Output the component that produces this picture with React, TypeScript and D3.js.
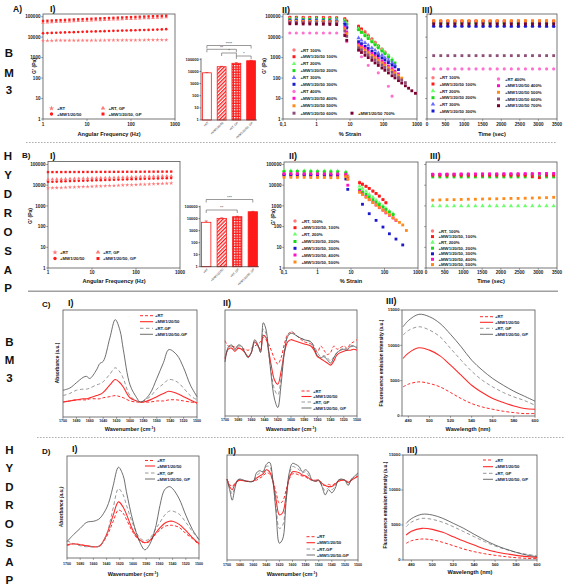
import React from "react";
import * as d3 from "d3";

const FF = "'Liberation Sans', Arial, Helvetica, sans-serif";
const N = null;

// ================= DATA =================
const LOG_TICKS = [1, 10, 100, 1000, 10000, 100000];
const FREQ_TICKS = [1, 10, 100, 1000];
const STRAIN_TICKS = [0.1, 1, 10, 100, 1000];
const STRAIN_TICK_LABELS = ["0,1", "1", "10", "100", "1000"];
const TIME_TICKS = [0, 500, 1000, 1500, 2000, 2500, 3000, 3500];
const WN_TICKS = [1700, 1680, 1660, 1640, 1620, 1600, 1580, 1560, 1540, 1520, 1500];
const WL_TICKS = [480, 500, 520, 540, 560, 580, 600];
const FL_TICKS = [0, 5000, 10000, 15000];

// A-I / B-I frequency sweeps
const FREQ = [1, 1.26, 1.58, 2, 2.51, 3.16, 3.98, 5.01, 6.31, 7.94, 10, 12.6, 15.8, 20, 25.1, 31.6, 39.8, 50.1, 63.1, 79.4, 100, 126, 158, 200, 251, 316, 398, 501, 631];
const A1_RT = [6800, 6800, 6800, 6850, 6850, 6850, 6900, 6900, 6900, 6950, 6950, 6950, 7000, 7000, 7000, 7050, 7050, 7100, 7100, 7100, 7150, 7150, 7200, 7200, 7250, 7250, 7300, 7300, 7350];
const A1_MW = [15500, 15800, 16100, 16400, 16700, 17000, 17300, 17600, 17900, 18200, 18500, 18800, 19100, 19400, 19700, 20000, 20300, 20600, 20900, 21200, 21500, 21800, 22100, 22400, 22700, 23100, 23500, 24000, 24500];
const A1_RTGP = [51000, 52300, 53600, 54900, 56200, 57500, 58800, 60100, 61400, 62700, 64000, 65300, 66600, 68000, 69500, 71000, 72500, 74000, 75500, 77000, 78500, 80000, 81800, 83600, 85400, 87200, 89000, 91000, 93000];
const A1_MWGP = [62000, 63600, 65200, 66800, 68400, 70000, 71600, 73200, 74800, 76400, 78000, 79600, 81200, 83000, 84800, 86600, 88400, 90200, 92000, 94000, 96000, 98000, 100000, 102000, 104000, 106000, 108000, 110000, 112000];
const B1_RT = [7200, 7350, 7500, 7650, 7800, 7950, 8100, 8250, 8400, 8550, 8700, 8850, 9000, 9200, 9400, 9600, 9800, 10000, 10200, 10400, 10600, 10800, 11000, 11200, 11400, 11700, 12000, 12200, 12500];
const B1_MW = [14500, 14750, 15000, 15250, 15500, 15750, 16000, 16250, 16500, 16750, 17000, 17250, 17500, 17750, 18000, 18300, 18600, 18900, 19200, 19500, 19800, 20100, 20400, 20700, 21000, 21300, 21600, 21800, 22000];
const B1_RTGP = [19000, 19300, 19600, 19900, 20200, 20500, 20800, 21100, 21400, 21700, 22000, 22300, 22600, 22900, 23200, 23500, 23800, 24100, 24400, 24700, 25000, 25400, 25800, 26200, 26600, 27000, 27400, 27700, 28000];
const B1_MWGP = [43000, 43000, 43100, 43200, 43300, 43400, 43500, 43500, 43600, 43700, 43800, 43900, 44000, 44000, 44100, 44200, 44300, 44400, 44500, 44500, 44600, 44700, 44800, 44900, 45000, 45100, 45200, 45300, 45500];
const FS_LABELS = ["+RT", "+MW1/20/50", "+RT, GP", "+MW1/20/50, GP"];

// Insets (bar charts)
const BAR_CATS = ["+RT", "+MW1/20/50", "+RT, GP", "+MW1/20/50, GP"];
const A_BAR = [7700, 24500, 47000, 76000];
const A_BAR_ERR = [400, 2000, 6000, 6000];
const B_BAR = [5000, 10700, 14700, 38000];
const B_BAR_ERR = [1500, 1000, 1200, 3000];
const A_SIG = [
  { a: 0, b: 3, label: "****" },
  { a: 0, b: 2, label: "**" },
  { a: 1, b: 2, label: "*" },
  { a: 2, b: 3, label: "*" },
];
const B_SIG = [
  { a: 0, b: 3, label: "***" },
  { a: 0, b: 2, label: "**" },
];

// A-II strain sweeps
const STRAIN_A = [0.16, 0.25, 0.4, 0.63, 1, 1.6, 2.5, 4, 7, 8, 18, 22, 28, 35, 45, 56, 70, 90, 110, 140, 180, 220, 280, 350, 450, 560, 700, 900];
const A2_RT100 = [95000, 95000, 94000, 94000, 93000, 93000, 92000, 90000, 80000, 62000, 36000, 27000, 19000, 13000, 8500, 5800, 4000, 2700, 1900, 1300, N, N, N, N, N, N, N, N];
const A2_MW100 = [92000, 92000, 91000, 91000, 90000, 90000, 89000, 87000, 78000, 60000, 33000, 24000, 16000, 11000, 7400, 5100, 3500, 2400, 1700, 1100, N, N, N, N, N, N, N, N];
const A2_RT200 = [80000, 80000, 79000, 79000, 78000, 78000, 77000, 75000, 65000, 48000, 26000, 19000, 13500, 9800, 6800, 4800, 3400, 2400, 1750, 1250, 850, N, N, N, N, N, N, N];
const A2_MW200 = [75000, 75000, 74000, 74000, 73000, 73000, 72000, 70000, 60000, 42000, 23000, 17000, 11700, 8500, 5900, 4200, 3000, 2100, 1550, 1050, 720, 550, N, N, N, N, N, N];
const A2_RT300 = [68000, 68000, 67000, 67000, 66000, 66000, 65000, 63000, 50000, 34000, 9000, 7000, 5300, 4000, 3000, 2300, 1700, 1300, 1000, 750, 560, 430, N, N, N, N, N, N];
const A2_MW300 = [64000, 64000, 63000, 63000, 62000, 62000, 61000, 59000, 42000, 28000, 6000, 4800, 3600, 2800, 2100, 1600, 1250, 960, 760, 570, 430, 350, 260, N, N, N, N, N];
const A2_RT400 = [16000, 16000, 16000, 16000, 16000, 16000, 16000, 16000, 14000, 6000, N, 1100, N, 420, N, N, 180, N, N, 40, 13, N, N, N, N, N, N, N];
const A2_MW400 = [58000, 58000, 57000, 57000, 56000, 56000, 55000, 54000, 30000, 18000, 4500, 3600, 2800, 2100, 1600, 1200, 900, 680, 520, 390, 290, 220, 160, N, N, N, N, N];
const A2_MW500 = [60000, 60000, 59000, 59000, 58000, 58000, 57000, 56000, 26000, 15000, 3800, 3000, 2300, 1750, 1300, 1000, 750, 560, 430, 320, 240, 180, 135, 100, N, N, N, N];
const A2_MW600 = [52000, 52000, 51000, 51000, 50000, 50000, 49000, 48000, 20000, 11000, 3000, 2400, 1800, 1350, 1000, 760, 570, 430, 330, 250, 190, 140, 105, 80, 60, N, N, N];
const A2_MW700 = [45000, 45000, 44000, 44000, 43000, 43000, 42000, 41000, 12000, 7000, 2300, 1780, 1300, 1000, 740, 550, 415, 310, 240, 178, 130, 102, 75, 57, 42, 32, 24, 18];

// A-III time sweeps
const TIME = [180, 370, 560, 750, 940, 1130, 1320, 1510, 1700, 1890, 2080, 2270, 2460, 2650, 2840, 3030, 3220, 3410];
const A3_RT100 = [62000, 62000, 61500, 62000, 62000, 61500, 62000, 62000, 61500, 62000, 62000, 61500, 62000, 62000, 61500, 62000, 62000, 61500];
const A3_MW100 = [58000, 58000, 58000, 57500, 58000, 58000, 58000, 57500, 58000, 58000, 58000, 57500, 58000, 58000, 58000, 57500, 58000, 58000];
const A3_RT200 = [54000, 54000, 54000, 54000, 53500, 54000, 54000, 54000, 54000, 53500, 54000, 54000, 54000, 54000, 53500, 54000, 54000, 54000];
const A3_MW200 = [50000, 50000, 50000, 50000, 50000, 49500, 50000, 50000, 50000, 50000, 49500, 50000, 50000, 50000, 50000, 49500, 50000, 50000];
const A3_RT300 = [36000, 36000, 36000, 36000, 36000, 36000, 35500, 36000, 36000, 36000, 36000, 35500, 36000, 36000, 36000, 36000, 35500, 36000];
const A3_MW300 = [34000, 34000, 34000, 34000, 34000, 34000, 34000, 33500, 34000, 34000, 34000, 34000, 33500, 34000, 34000, 34000, 34000, 33500];
const A3_RT400 = [280, 280, 280, 280, 280, 280, 280, 280, 280, 280, 280, 280, 280, 280, 280, 280, 280, 280];
const A3_MW400 = [60000, 60000, 60000, 60000, 60000, 60000, 60000, 60000, 60000, 60000, 60000, 60000, 60000, 60000, 60000, 60000, 60000, 60000];
const A3_MW500 = [64000, 64000, 64000, 64000, 64000, 64000, 64000, 64000, 64000, 64000, 64000, 64000, 64000, 64000, 64000, 64000, 64000, 64000];
const A3_MW600 = [1250, 1250, 1250, 1250, 1250, 1250, 1250, 1250, 1250, 1250, 1250, 1250, 1250, 1250, 1250, 1250, 1250, 1250];
const A3_MW700 = [44000, 44000, 44000, 44000, 44000, 44000, 44000, 44000, 44000, 44000, 44000, 44000, 44000, 44000, 44000, 44000, 44000, 44000];
const A_NAMES = ["+RT 100%", "+MW1/20/50 100%", "+RT 200%", "+MW1/20/50 200%", "+RT 300%", "+MW1/20/50 300%", "+RT 400%", "+MW1/20/50 400%", "+MW1/20/50 500%", "+MW1/20/50 600%", "+MW1/20/50 700%"];

// B-II strain sweeps
const STRAIN_B = [0.1, 0.16, 0.25, 0.4, 0.63, 1, 1.6, 2.5, 4, 7, 8, 18, 22, 28, 35, 45, 56, 70, 90, 110, 140, 180, 220, 280, 350, 450];
const B2_RT100 = [34000, 34000, 34000, 33500, 33500, 33500, 33000, 33000, 33000, 32000, 26000, 14000, 11500, 9000, 7000, 5200, 3900, 2900, 2100, 1500, N, N, N, N, N, N];
const B2_MW100 = [31000, 31000, 31000, 31000, 30500, 30500, 30500, 30000, 30000, 30000, 20000, 13000, 11000, 8800, 7000, 5200, 4000, 3000, 2000, 1400, N, N, N, N, N, N];
const B2_RT200 = [50000, 50000, 50000, 49500, 49500, 49000, 49000, 48500, 48000, 45000, 30000, 9000, 7000, 5000, 3600, 2600, 1900, 1400, 1000, 750, 560, 420, N, N, N, N];
const B2_MW200 = [46000, 46000, 46000, 45500, 45500, 45000, 45000, 44500, 44000, 40000, 25000, 6000, 4800, 3600, 2700, 2000, 1500, 1150, 870, 670, 500, 380, N, N, N, N];
const B2_MW300 = [32000, 32000, 32000, 32000, 31500, 31500, 31500, 31000, 31000, 20000, 6300, N, 1200, N, 420, N, 200, N, 95, N, 45, N, 25, N, 13, N];
const B2_MW400 = [36000, 36000, 36000, 35500, 35500, 35500, 35000, 35000, 35000, 34000, 10000, 5000, 3800, 2800, 2000, 1500, 1100, 820, 620, 460, 350, 260, 200, N, N, N];
const B2_MW500 = [24000, 24000, 24000, 24000, 23500, 23500, 23500, 23000, 23000, 26000, 20000, 4500, 3500, 2600, 2000, 1450, 1100, 850, 630, 490, 370, 270, 210, 160, 120, 65];

// B-III time sweeps
const B3_RT100 = [33000, 33000, 33000, 33500, 33000, 33000, 33500, 33000, 33000, 33500, 33000, 33000, 33500, 33000, 33000, 33500, 33000, 33000];
const B3_MW100 = [30000, 30000, 30000, 30000, 30000, 30000, 30000, 30000, 30000, 30000, 30000, 30000, 30000, 30000, 26000, 23000, 30000, 30000];
const B3_RT200 = [1000, 1000, 1000, 1000, 1000, 1000, 1000, 1000, 1000, 1000, 1000, 1000, 1000, 1000, 1000, 1000, 1000, 1000];
const B3_MW200 = [25000, 25000, 25000, 25000, 25000, 25000, 25000, 25000, 25000, 25000, 25000, 25000, 25000, 25000, 25000, 25000, 25000, 25000];
const B3_MW300 = [33000, 33000, 33000, 33000, 33000, 33000, 33000, 33000, 33000, 33000, 33000, 33000, 33000, 33000, 33000, 33000, 33000, 33000];
const B3_MW400 = [34000, 34000, 34500, 34500, 35000, 35000, 35000, 35500, 35500, 35500, 36000, 36000, 36000, 36500, 36500, 37000, 37000, 37000];
const B3_MW500 = [1900, 1950, 2000, 2000, 2050, 2100, 2100, 2150, 2200, 2200, 2250, 2300, 2300, 2350, 2400, 2450, 2500, 2600];
const B_NAMES = ["+RT, 100%", "+MW1/20/50, 100%", "+RT, 200%", "+MW1/20/50, 200%", "+MW1/20/50, 300%", "+MW1/20/50, 400%", "+MW1/20/50, 500%"];

// C-I FTIR absorbance (BM3)
const WN_C1 = [1700, 1690, 1680, 1670, 1665, 1660, 1650, 1645, 1640, 1630, 1622, 1615, 1610, 1600, 1590, 1585, 1580, 1570, 1560, 1550, 1542, 1530, 1520, 1510, 1500];
const C1_RT = [0.14, 0.15, 0.16, 0.16, 0.16, 0.17, 0.17, 0.17, 0.18, 0.19, 0.2, 0.19, 0.18, 0.15, 0.14, 0.14, 0.14, 0.14, 0.15, 0.15, 0.16, 0.16, 0.15, 0.14, 0.13];
const C1_MW = [0.14, 0.15, 0.16, 0.17, 0.17, 0.18, 0.2, 0.21, 0.23, 0.3, 0.35, 0.32, 0.28, 0.18, 0.15, 0.14, 0.14, 0.16, 0.19, 0.22, 0.24, 0.22, 0.19, 0.16, 0.13];
const C1_RTGP = [0.2, 0.22, 0.25, 0.26, 0.26, 0.27, 0.3, 0.31, 0.33, 0.4, 0.46, 0.42, 0.36, 0.2, 0.15, 0.14, 0.15, 0.19, 0.26, 0.31, 0.35, 0.33, 0.27, 0.2, 0.16];
const C1_MWGP = [0.25, 0.27, 0.32, 0.37, 0.38, 0.36, 0.44, 0.5, 0.52, 0.74, 0.91, 0.81, 0.63, 0.3, 0.18, 0.14, 0.15, 0.22, 0.36, 0.51, 0.63, 0.58, 0.46, 0.3, 0.19];

// C-II second derivative (BM3)
const WN_C2 = [1700, 1695, 1690, 1685, 1680, 1675, 1670, 1665, 1660, 1655, 1650, 1646, 1642, 1638, 1634, 1630, 1625, 1620, 1615, 1610, 1605, 1600, 1595, 1590, 1580, 1570, 1565, 1560, 1555, 1550, 1545, 1540, 1535, 1530, 1520, 1515, 1510, 1505, 1500];
const C2_RT = [0.71, 0.66, 0.66, 0.65, 0.64, 0.63, 0.63, 0.62, 0.64, 0.66, 0.68, 0.7, 0.74, 0.72, 0.68, 0.62, 0.54, 0.49, 0.55, 0.68, 0.77, 0.79, 0.78, 0.75, 0.7, 0.68, 0.64, 0.6, 0.66, 0.62, 0.58, 0.6, 0.66, 0.63, 0.66, 0.64, 0.68, 0.7, 0.72];
const C2_MW = [0.54, 0.63, 0.64, 0.61, 0.64, 0.63, 0.6, 0.56, 0.6, 0.7, 0.66, 0.62, 0.76, 0.74, 0.62, 0.48, 0.34, 0.3, 0.42, 0.6, 0.7, 0.72, 0.71, 0.7, 0.68, 0.66, 0.62, 0.56, 0.54, 0.52, 0.5, 0.48, 0.52, 0.58, 0.61, 0.62, 0.62, 0.63, 0.62];
const C2_RTGP = [0.55, 0.64, 0.66, 0.62, 0.66, 0.65, 0.6, 0.56, 0.6, 0.7, 0.66, 0.6, 0.82, 0.78, 0.6, 0.42, 0.25, 0.2, 0.36, 0.62, 0.76, 0.8, 0.78, 0.75, 0.72, 0.7, 0.66, 0.6, 0.56, 0.57, 0.55, 0.52, 0.56, 0.6, 0.64, 0.63, 0.65, 0.66, 0.65];
const C2_MWGP = [0.51, 0.65, 0.67, 0.63, 0.67, 0.66, 0.6, 0.55, 0.6, 0.72, 0.67, 0.6, 0.88, 0.82, 0.62, 0.38, 0.16, 0.08, 0.3, 0.6, 0.75, 0.78, 0.77, 0.75, 0.72, 0.7, 0.64, 0.57, 0.55, 0.56, 0.53, 0.5, 0.55, 0.6, 0.63, 0.62, 0.66, 0.66, 0.64];

// C-III / D-III fluorescence
const WL = [475, 480, 490, 500, 510, 520, 530, 540, 550, 560, 570, 580, 590, 600];
const C3_RT = [4120, 4500, 4830, 4600, 4120, 3320, 2470, 1760, 1280, 950, 670, 480, 340, 350];
const C3_MW = [8140, 8900, 9650, 9320, 8510, 7190, 5770, 4350, 3320, 2470, 1900, 1420, 1050, 950];
const C3_RTGP = [11450, 12100, 12630, 12160, 11210, 9560, 7900, 6340, 5070, 4120, 3320, 2700, 2190, 1520];
const C3_MWGP = [12630, 13500, 14390, 14050, 13100, 11550, 9800, 7900, 6490, 5300, 4350, 3500, 2800, 2100];
const D3_RT = [2380, 2750, 3000, 2880, 2520, 2050, 1570, 1190, 900, 667, 480, 330, 240, 190];
const D3_MW = [3570, 4100, 4520, 4380, 3950, 3330, 2710, 2140, 1570, 1190, 900, 667, 480, 380];
const D3_RTGP = [4760, 5400, 5950, 5800, 5380, 4760, 4050, 3330, 2620, 2000, 1520, 1100, 820, 620];
const D3_MWGP = [5240, 5900, 6530, 6430, 5950, 5240, 4520, 3670, 2860, 2140, 1570, 1100, 710, 480];

// D-I FTIR absorbance (Hydrosap)
const WN_D1 = [1700, 1690, 1680, 1670, 1660, 1655, 1650, 1640, 1635, 1630, 1622, 1615, 1610, 1600, 1590, 1582, 1575, 1565, 1560, 1552, 1545, 1540, 1530, 1520, 1510, 1500];
const D1_RT = [0.12, 0.14, 0.13, 0.12, 0.11, 0.11, 0.12, 0.21, 0.28, 0.36, 0.47, 0.44, 0.38, 0.25, 0.17, 0.15, 0.16, 0.24, 0.27, 0.31, 0.32, 0.32, 0.3, 0.24, 0.19, 0.13];
const D1_MW = [0.13, 0.14, 0.13, 0.12, 0.11, 0.11, 0.12, 0.23, 0.32, 0.42, 0.55, 0.5, 0.43, 0.27, 0.18, 0.15, 0.17, 0.25, 0.29, 0.34, 0.36, 0.36, 0.33, 0.27, 0.2, 0.14];
const D1_RTGP = [0.17, 0.14, 0.12, 0.11, 0.11, 0.11, 0.12, 0.23, 0.35, 0.49, 0.68, 0.62, 0.52, 0.33, 0.2, 0.17, 0.19, 0.29, 0.34, 0.42, 0.46, 0.46, 0.43, 0.35, 0.26, 0.18];
const D1_MWGP = [0.16, 0.23, 0.29, 0.35, 0.36, 0.37, 0.39, 0.49, 0.58, 0.71, 0.89, 0.81, 0.65, 0.36, 0.16, 0.08, 0.13, 0.32, 0.49, 0.67, 0.7, 0.68, 0.58, 0.42, 0.28, 0.18];

// D-II second derivative (Hydrosap)
const WN_D2 = [1700, 1696, 1692, 1688, 1684, 1680, 1670, 1660, 1655, 1650, 1645, 1640, 1635, 1630, 1625, 1620, 1615, 1610, 1605, 1600, 1595, 1590, 1585, 1580, 1575, 1570, 1565, 1560, 1555, 1550, 1545, 1540, 1535, 1530, 1525, 1520, 1515, 1510, 1505, 1500];
const D2_RT = [0.77, 0.72, 0.7, 0.73, 0.75, 0.76, 0.75, 0.75, 0.76, 0.78, 0.8, 0.83, 0.82, 0.76, 0.64, 0.54, 0.56, 0.66, 0.77, 0.82, 0.82, 0.81, 0.8, 0.79, 0.77, 0.76, 0.75, 0.75, 0.72, 0.71, 0.72, 0.71, 0.73, 0.75, 0.76, 0.76, 0.74, 0.76, 0.78, 0.8];
const D2_MW = [0.77, 0.7, 0.67, 0.72, 0.75, 0.76, 0.75, 0.75, 0.78, 0.8, 0.82, 0.86, 0.84, 0.75, 0.57, 0.43, 0.45, 0.6, 0.78, 0.84, 0.84, 0.83, 0.81, 0.8, 0.78, 0.76, 0.76, 0.76, 0.73, 0.71, 0.7, 0.7, 0.72, 0.75, 0.76, 0.76, 0.74, 0.76, 0.78, 0.8];
const D2_RTGP = [0.77, 0.69, 0.63, 0.7, 0.76, 0.77, 0.75, 0.75, 0.8, 0.83, 0.84, 0.89, 0.89, 0.76, 0.5, 0.3, 0.33, 0.57, 0.8, 0.89, 0.88, 0.86, 0.83, 0.84, 0.8, 0.76, 0.75, 0.76, 0.71, 0.66, 0.69, 0.67, 0.7, 0.76, 0.77, 0.76, 0.72, 0.77, 0.79, 0.82];
const D2_MWGP = [0.77, 0.67, 0.57, 0.68, 0.76, 0.77, 0.75, 0.75, 0.83, 0.85, 0.84, 0.91, 0.93, 0.76, 0.44, 0.16, 0.2, 0.54, 0.83, 0.92, 0.91, 0.89, 0.84, 0.86, 0.83, 0.76, 0.75, 0.76, 0.7, 0.62, 0.67, 0.64, 0.68, 0.76, 0.77, 0.76, 0.71, 0.77, 0.8, 0.83];

const LBL_DASH = ["+RT", "+MW1/20/50", "+RT-GP", "+MW1/20/50-GP"];
const LBL_COMMA = ["+RT", "+MW1/20/50", "+RT, GP", "+MW1/20/50, GP"];

// ================= STYLES =================
const C = {
  ltRed: "#ff7a7a", red: "#ff1a1a", ltGreen: "#6cff6c", green: "#17d917",
  ltBlue: "#6a6aff", blue: "#1a1acc", ltPink: "#ff70cf", magenta: "#ff10c8",
  orange: "#ff8a1a", mauve: "#8e4f79", maroon: "#7a0030",
};
const FTIR_STYLE = [
  { color: "#ff2a2a", dash: "3,2", w: 1.0 },
  { color: "#ff2a2a", dash: "", w: 1.1 },
  { color: "#8c8c8c", dash: "3.5,2.5", w: 0.9 },
  { color: "#4a4a4a", dash: "", w: 0.8 },
];

type Sh = d3.SymbolType;
const sym = (t: Sh, s: number) => d3.symbol().type(t).size(s)() as string;

function Points({ xs, vals, x, y, shape, color, size = 9 }: any) {
  const p = sym(shape, size);
  return (
    <g>
      {vals.map((v: number | null, i: number) =>
        v == null ? null : (
          <path key={i} d={p} transform={`translate(${x(xs[i])},${y(v)})`} fill={color} />
        )
      )}
    </g>
  );
}

function Frame({ x0, x1, y0, y1 }: any) {
  return <rect x={x0} y={y0} width={x1 - x0} height={y1 - y0} fill="none" stroke="#555" strokeWidth={0.8} />;
}

function XTicks({ x, ticks, labels, y1, ly, fs = 4.6 }: any) {
  return (
    <g>
      {ticks.map((t: number, i: number) => (
        <g key={i}>
          <line x1={x(t)} x2={x(t)} y1={y1} y2={y1 + 1.8} stroke="#555" strokeWidth={0.6} />
          <text x={x(t)} y={ly} fontSize={fs} fontWeight="bold" textAnchor="middle" fill="#222" fontFamily={FF}>
            {labels ? labels[i] : String(t)}
          </text>
        </g>
      ))}
    </g>
  );
}

function YTicks({ y, ticks, x0, labels = true, fs = 4.6 }: any) {
  return (
    <g>
      {ticks.map((t: number, i: number) => (
        <g key={i}>
          <line x1={x0 - 1.8} x2={x0} y1={y(t)} y2={y(t)} stroke="#555" strokeWidth={0.6} />
          {labels && (
            <text x={x0 - 2.5} y={y(t)} dy="0.35em" fontSize={fs} fontWeight="bold" textAnchor="end" fill="#222" fontFamily={FF}>
              {String(t)}
            </text>
          )}
        </g>
      ))}
    </g>
  );
}

function T({ x, y, s, fs = 5.5, anchor = "middle", rot = 0, italic = false, fill = "#111", weight = "bold" }: any) {
  return (
    <text
      x={x} y={y} fontSize={fs} fontWeight={weight} textAnchor={anchor} fill={fill} fontFamily={FF}
      fontStyle={italic ? "italic" : "normal"}
      transform={rot ? `rotate(${rot},${x},${y})` : undefined}
    >
      {s}
    </text>
  );
}

function VertWord({ x, ys, letters }: any) {
  return (
    <g>
      {letters.split("").map((ch: string, i: number) => (
        <text key={i} x={x} y={ys[i]} fontSize={11.5} fontWeight="bold" textAnchor="middle" dy="0.36em" fill="#111" fontFamily={FF}>
          {ch}
        </text>
      ))}
    </g>
  );
}

function BarInset({ axisX, xEnd, yBot, yTop, vals, errs, sig, sigY }: any) {
  const y = d3.scaleLog().domain([1, 100000]).range([yBot, yTop]);
  const x = d3.scaleBand().domain(BAR_CATS).range([axisX, xEnd]).paddingInner(0.4).paddingOuter(0.1);
  const fills = ["#ffffff", "url(#hatch)", "url(#check)", C.red];
  const cx = (i: number) => (x(BAR_CATS[i]) as number) + x.bandwidth() / 2;
  return (
    <g>
      {vals.map((v: number, i: number) => (
        <g key={i}>
          <rect x={x(BAR_CATS[i])} y={y(v)} width={x.bandwidth()} height={y(1) - y(v)} fill={fills[i]} stroke={C.red} strokeWidth={0.8} />
          <line x1={cx(i)} x2={cx(i)} y1={y(v)} y2={y(v + errs[i])} stroke="#c22" strokeWidth={0.6} />
          <line x1={cx(i) - 1.5} x2={cx(i) + 1.5} y1={y(v + errs[i])} y2={y(v + errs[i])} stroke="#c22" strokeWidth={0.6} />
        </g>
      ))}
      <line x1={axisX} x2={axisX} y1={yBot} y2={yTop - 1} stroke="#333" strokeWidth={0.7} />
      <line x1={axisX} x2={xEnd} y1={yBot} y2={yBot} stroke="#333" strokeWidth={0.7} />
      {LOG_TICKS.map((t) => (
        <g key={t}>
          <line x1={axisX - 1.5} x2={axisX} y1={y(t)} y2={y(t)} stroke="#333" strokeWidth={0.6} />
          <text x={axisX - 2.2} y={y(t)} dy="0.35em" fontSize={4} fontWeight="bold" textAnchor="end" fill="#222" fontFamily={FF}>{t}</text>
        </g>
      ))}
      {BAR_CATS.map((c, i) => (
        <text key={c} x={cx(i) + 2} y={yBot + 3} fontSize={3} textAnchor="end" fill="#333" fontFamily={FF}
          transform={`rotate(-45,${cx(i) + 2},${yBot + 3})`}>{c}</text>
      ))}
      {sig.map((s: any, k: number) => {
        const yy = sigY[k];
        const a = cx(s.a), b = cx(s.b);
        return (
          <g key={k}>
            <path d={`M${a},${yy + 3}V${yy}H${b}V${yy + 3}`} fill="none" stroke="#555" strokeWidth={0.6} />
            <text x={(a + b) / 2} y={yy - 0.6} fontSize={4.2} textAnchor="middle" fill="#333" fontFamily={FF}>{s.label}</text>
          </g>
        );
      })}
    </g>
  );
}

function SymLegend({ items, x, ys, tx }: any) {
  return (
    <g>
      {items.map((it: any, i: number) => (
        <g key={i}>
          <path d={sym(it.shape, 9)} transform={`translate(${x},${ys[i]})`} fill={it.color} />
          <text x={tx} y={ys[i]} dy="0.35em" fontSize={4.3} fontWeight="bold" fill="#222" fontFamily={FF}>{it.name}</text>
        </g>
      ))}
    </g>
  );
}

function LineLegend({ labels, x0, x1, tx, ys }: any) {
  return (
    <g>
      {labels.map((l: string, i: number) => (
        <g key={i}>
          <line x1={x0} x2={x1} y1={ys[i]} y2={ys[i]} stroke={FTIR_STYLE[i].color} strokeWidth={FTIR_STYLE[i].w}
            strokeDasharray={FTIR_STYLE[i].dash || undefined} />
          <text x={tx} y={ys[i]} dy="0.35em" fontSize={4.3} fontWeight="bold" fill="#222" fontFamily={FF}>{l}</text>
        </g>
      ))}
    </g>
  );
}

function Curves({ xs, series, x, y }: any) {
  const line = d3.line<number>().x((_, i) => x(xs[i])).y((d) => y(d)).curve(d3.curveCatmullRom.alpha(0.5));
  return (
    <g>
      {series.map((s: number[], i: number) => (
        <path key={i} d={line(s) as string} fill="none" stroke={FTIR_STYLE[i].color} strokeWidth={FTIR_STYLE[i].w}
          strokeDasharray={FTIR_STYLE[i].dash || undefined} />
      ))}
    </g>
  );
}

function WnTitle({ x, y }: any) {
  return (
    <text x={x} y={y} fontSize={5.5} fontWeight="bold" textAnchor="middle" fill="#111" fontFamily={FF}>
      Wavenumber (cm<tspan dy="-2" fontSize={3.5}>-1</tspan><tspan dy="2">)</tspan>
    </text>
  );
}

export default function App() {
  // ---- Row A scales
  const yA = d3.scaleLog().domain([1, 100000]).range([119, 16.7]);
  const xA1 = d3.scaleLog().domain([1, 1000]).range([43, 175]);
  const xA2 = d3.scaleLog().domain([0.1, 1000]).range([283, 417]);
  const xA3 = d3.scaleLinear().domain([0, 3500]).range([427, 557]);
  // ---- Row B scales
  const yB = d3.scaleLog().domain([1, 100000]).range([268, 164.5]);
  const xB1 = d3.scaleLog().domain([1, 1000]).range([48, 180]);
  const xB2 = d3.scaleLog().domain([0.1, 1000]).range([284, 418]);
  const xB3 = d3.scaleLinear().domain([0, 3500]).range([426, 557]);
  // ---- Row C
  const xC1 = d3.scaleLinear().domain([1700, 1500]).range([63, 197]);
  const yC1 = d3.scaleLinear().domain([0, 1]).range([417, 310]);
  const xC2 = d3.scaleLinear().domain([1700, 1500]).range([225, 357]);
  const yC2 = d3.scaleLinear().domain([0, 1]).range([416, 310]);
  const xC3 = d3.scaleLinear().domain([474, 600]).range([402, 535]);
  const yC3 = d3.scaleLinear().domain([0, 15000]).range([416, 310]);
  // ---- Row D
  const xD1 = d3.scaleLinear().domain([1700, 1500]).range([67, 199]);
  const yD1 = d3.scaleLinear().domain([0, 1]).range([558, 456]);
  const xD2 = d3.scaleLinear().domain([1700, 1500]).range([227, 358]);
  const yD2 = d3.scaleLinear().domain([0, 1]).range([560, 455]);
  const xD3 = d3.scaleLinear().domain([472, 600]).range([403, 537]);
  const yD3 = d3.scaleLinear().domain([0, 15000]).range([560, 455]);

  const fsStyles = [
    { shape: d3.symbolStar, color: C.ltRed },
    { shape: d3.symbolCircle, color: C.red },
    { shape: d3.symbolTriangle, color: C.ltRed },
    { shape: d3.symbolSquare, color: C.red },
  ];
  const A1_SER = [A1_RT, A1_MW, A1_RTGP, A1_MWGP];
  const B1_SER = [B1_RT, B1_MW, B1_RTGP, B1_MWGP];

  const aStyles = [
    { shape: d3.symbolCircle, color: C.ltRed },
    { shape: d3.symbolSquare, color: C.red },
    { shape: d3.symbolTriangle, color: C.ltGreen },
    { shape: d3.symbolSquare, color: C.green },
    { shape: d3.symbolTriangle, color: C.ltBlue },
    { shape: d3.symbolSquare, color: C.blue },
    { shape: d3.symbolCircle, color: C.ltPink },
    { shape: d3.symbolSquare, color: C.magenta },
    { shape: d3.symbolSquare, color: C.orange },
    { shape: d3.symbolSquare, color: C.mauve },
    { shape: d3.symbolSquare, color: C.maroon },
  ];
  const A2_SER = [A2_RT100, A2_MW100, A2_RT200, A2_MW200, A2_RT300, A2_MW300, A2_RT400, A2_MW400, A2_MW500, A2_MW600, A2_MW700];
  const A3_SER = [A3_RT100, A3_MW100, A3_RT200, A3_MW200, A3_RT300, A3_MW300, A3_RT400, A3_MW400, A3_MW500, A3_MW600, A3_MW700];
  const bStyles = [
    { shape: d3.symbolCircle, color: C.ltRed },
    { shape: d3.symbolSquare, color: C.red },
    { shape: d3.symbolTriangle, color: C.ltGreen },
    { shape: d3.symbolSquare, color: C.green },
    { shape: d3.symbolSquare, color: C.blue },
    { shape: d3.symbolSquare, color: C.magenta },
    { shape: d3.symbolSquare, color: C.orange },
  ];
  const B2_SER = [B2_RT200, B2_MW200, B2_RT100, B2_MW100, B2_MW300, B2_MW400, B2_MW500];
  const B2_STY = [bStyles[2], bStyles[3], bStyles[0], bStyles[1], bStyles[4], bStyles[5], bStyles[6]];
  const B3_SER = [B3_MW300, B3_RT100, B3_MW200, B3_MW100, B3_MW400, B3_RT200, B3_MW500];
  const B3_STY = [bStyles[4], bStyles[0], bStyles[3], bStyles[1], bStyles[5], bStyles[2], bStyles[6]];

  const aLegLeftY = [50, 56.7, 63.8, 70.6, 77.6, 84.3, 91.5, 98.3, 105.8, 113.2];
  const a3LeftY = [77.7, 84, 91, 97.7, 104.3, 111];
  const a3RightY = [79, 85.7, 92.3, 99, 105.7];
  const bLegY = [221, 227.7, 234.3, 241.5, 248.3, 255, 262];
  const b3LegY = [231, 236.6, 242.4, 248.2, 253.8, 259.3, 264.6];

  return (
    <svg width={569} height={586} style={{ position: "absolute", left: 0, top: 0, background: "#fff" }} fontFamily={FF}>
      <defs>
        <pattern id="hatch" width="2.6" height="2.6" patternUnits="userSpaceOnUse" patternTransform="rotate(45)">
          <rect width="2.6" height="2.6" fill="#fff" />
          <rect width="1.3" height="2.6" fill={C.red} />
        </pattern>
        <pattern id="check" width="2.6" height="2.6" patternUnits="userSpaceOnUse">
          <rect width="2.6" height="2.6" fill={C.red} />
          <rect width="1.3" height="1.3" fill="#fff" />
        </pattern>
      </defs>
      <rect x={0} y={0} width={569} height={586} fill="#fff" />

      {/* ============ ROW A ============ */}
      <T x={13} y={12} s="A)" fs={8.5} anchor="start" />
      <T x={50} y={12} s="I)" fs={9} anchor="start" />
      <T x={282} y={12.5} s="II)" fs={9} anchor="start" />
      <T x={422} y={12.5} s="III)" fs={9} anchor="start" />
      <VertWord x={9} ys={[52.7, 72.5, 89.5]} letters="BM3" />

      {/* A-I */}
      <Frame x0={43} x1={175} y0={14} y1={119} />
      {A1_SER.map((s, i) => (
        <Points key={i} xs={FREQ} vals={s} x={xA1} y={yA} shape={fsStyles[i].shape} color={fsStyles[i].color} size={5.5} />
      ))}
      <YTicks y={yA} ticks={LOG_TICKS} x0={43} />
      <XTicks x={xA1} ticks={FREQ_TICKS} y1={119} ly={125.5} />
      <T x={109} y={136} s="Angular Frequency (Hz)" fs={5.6} />
      <T x={36} y={66} s="G' (Pa)" fs={5} rot={-90} />
      <SymLegend items={[{ ...fsStyles[0], name: FS_LABELS[0] }, { ...fsStyles[1], name: FS_LABELS[1] }]} x={51.5} tx={57} ys={[108.3, 114]} />
      <SymLegend items={[{ ...fsStyles[2], name: FS_LABELS[2] }, { ...fsStyles[3], name: FS_LABELS[3] }]} x={103} tx={108.5} ys={[108.3, 114]} />

      {/* A inset */}
      <BarInset axisX={201} xEnd={257} yBot={120} yTop={59.3} vals={A_BAR} errs={A_BAR_ERR} sig={A_SIG} sigY={[45.5, 49.3, 53, 56]} />

      {/* A-II */}
      <Frame x0={283} x1={417} y0={14} y1={119} />
      {A2_SER.map((s, i) => (
        <Points key={i} xs={STRAIN_A} vals={s} x={xA2} y={yA} shape={aStyles[i].shape} color={aStyles[i].color} size={8} />
      ))}
      <YTicks y={yA} ticks={LOG_TICKS} x0={283} />
      <XTicks x={xA2} ticks={STRAIN_TICKS} labels={STRAIN_TICK_LABELS} y1={119} ly={125.5} />
      <T x={350} y={136} s="% Strain" fs={5.6} />
      <T x={265.5} y={66} s="G' (Pa)" fs={5} rot={-90} />
      <SymLegend items={A_NAMES.slice(0, 10).map((n, i) => ({ ...aStyles[i], name: n }))} x={294} tx={300.5} ys={aLegLeftY} />
      <SymLegend items={[{ ...aStyles[10], name: A_NAMES[10] }]} x={352} tx={358} ys={[113.2]} />

      {/* A-III */}
      <Frame x0={427} x1={557} y0={14} y1={119} />
      {A3_SER.map((s, i) => (
        <Points key={i} xs={TIME} vals={s} x={xA3} y={yA} shape={aStyles[i].shape} color={aStyles[i].color} size={8} />
      ))}
      <YTicks y={yA} ticks={LOG_TICKS} x0={427} labels={false} />
      <XTicks x={xA3} ticks={TIME_TICKS} y1={119} ly={125.5} />
      <T x={492} y={136} s="Time (sec)" fs={5.6} />
      <SymLegend items={A_NAMES.slice(0, 6).map((n, i) => ({ ...aStyles[i], name: n }))} x={433} tx={439.5} ys={a3LeftY} />
      <SymLegend items={A_NAMES.slice(6).map((n, i) => ({ ...aStyles[i + 6], name: n }))} x={498.5} tx={505} ys={a3RightY} />

      <line x1={26} x2={557} y1={142.5} y2={142.5} stroke="#9a9a9a" strokeWidth={0.8} strokeDasharray="1.6,1.4" />

      {/* ============ ROW B ============ */}
      <VertWord x={8} ys={[156, 175, 194, 213, 231.5, 250.5, 269.5, 288]} letters="HYDROSAP" />
      <T x={22} y={158} s="B)" fs={8} anchor="start" />
      <T x={50} y={158.5} s="I)" fs={9} anchor="start" />
      <T x={289} y={159} s="II)" fs={9} anchor="start" />
      <T x={430} y={159} s="III)" fs={9} anchor="start" />

      {/* B-I */}
      <Frame x0={48} x1={180} y0={161.5} y1={268} />
      {B1_SER.map((s, i) => (
        <Points key={i} xs={FREQ} vals={s} x={xB1} y={yB} shape={fsStyles[i].shape} color={fsStyles[i].color} size={5.5} />
      ))}
      <YTicks y={yB} ticks={LOG_TICKS} x0={48} />
      <XTicks x={xB1} ticks={FREQ_TICKS} y1={268} ly={274} />
      <T x={114} y={283} s="Angular Frequency (Hz)" fs={5.6} />
      <T x={32} y={216} s="G' (Pa)" fs={5} rot={-90} />
      <SymLegend items={[{ ...fsStyles[0], name: FS_LABELS[0] }, { ...fsStyles[1], name: FS_LABELS[1] }]} x={55} tx={60} ys={[252.3, 258.5]} />
      <SymLegend items={[{ ...fsStyles[2], name: FS_LABELS[2] }, { ...fsStyles[3], name: FS_LABELS[3] }]} x={98} tx={103} ys={[252.3, 258.5]} />

      {/* B inset */}
      <BarInset axisX={200} xEnd={259} yBot={266.7} yTop={206.7} vals={B_BAR} errs={B_BAR_ERR} sig={B_SIG} sigY={[199.5, 210]} />

      {/* B-II */}
      <Frame x0={284} x1={418} y0={162} y1={268} />
      {B2_SER.map((s, i) => (
        <Points key={i} xs={STRAIN_B} vals={s} x={xB2} y={yB} shape={B2_STY[i].shape} color={B2_STY[i].color} size={8} />
      ))}
      <YTicks y={yB} ticks={LOG_TICKS} x0={284} />
      <XTicks x={xB2} ticks={STRAIN_TICKS} labels={STRAIN_TICK_LABELS} y1={268} ly={274} />
      <T x={351} y={283} s="% Strain" fs={5.6} />
      <T x={275} y={217} s="G' (Pa)" fs={5} rot={-90} />
      <SymLegend items={B_NAMES.map((n, i) => ({ ...bStyles[i], name: n }))} x={295} tx={301.5} ys={bLegY} />

      {/* B-III */}
      <Frame x0={426} x1={557} y0={162} y1={268} />
      {B3_SER.map((s, i) => (
        <Points key={i} xs={TIME} vals={s} x={xB3} y={yB} shape={B3_STY[i].shape} color={B3_STY[i].color} size={8} />
      ))}
      <YTicks y={yB} ticks={LOG_TICKS} x0={426} labels={false} />
      <XTicks x={xB3} ticks={TIME_TICKS} y1={268} ly={274} />
      <T x={491} y={283} s="Time (sec)" fs={5.6} />
      <SymLegend items={B_NAMES.map((n, i) => ({ ...bStyles[i], name: n }))} x={432.5} tx={438.5} ys={b3LegY} />

      <line x1={28} x2={558} y1={291.2} y2={291.2} stroke="#a0a0a0" strokeWidth={1.6} />

      {/* ============ ROW C ============ */}
      <VertWord x={9.5} ys={[341.7, 360, 378.3]} letters="BM3" />
      <T x={42} y={306.5} s="C)" fs={8} anchor="start" />
      <T x={68} y={306} s="I)" fs={9} anchor="start" />
      <T x={223} y={306} s="II)" fs={9} anchor="start" />
      <T x={386} y={304} s="III)" fs={9} anchor="start" />

      {/* C-I */}
      <Frame x0={63} x1={197} y0={310} y1={417} />
      <Curves xs={WN_C1} series={[C1_RT, C1_MW, C1_RTGP, C1_MWGP]} x={xC1} y={yC1} />
      <XTicks x={xC1} ticks={WN_TICKS} y1={417} ly={422} fs={3.6} />
      <WnTitle x={130} y={431} />
      <T x={59} y={363} s="Absorbance (a.u.)" fs={4.8} rot={-90} />
      <LineLegend labels={LBL_DASH} x0={140} x1={153} tx={155} ys={[315.7, 321.7, 328.3, 334.3]} />

      {/* C-II */}
      <Frame x0={225} x1={357} y0={310} y1={416} />
      <Curves xs={WN_C2} series={[C2_RT, C2_MW, C2_RTGP, C2_MWGP]} x={xC2} y={yC2} />
      <XTicks x={xC2} ticks={WN_TICKS} y1={416} ly={421} fs={3.6} />
      <WnTitle x={291} y={431} />
      <LineLegend labels={LBL_COMMA} x0={301.5} x1={311.5} tx={313} ys={[391, 396.5, 402, 408]} />

      {/* C-III */}
      <Frame x0={402} x1={535} y0={310} y1={416} />
      <Curves xs={WL} series={[C3_RT, C3_MW, C3_RTGP, C3_MWGP]} x={xC3} y={yC3} />
      <XTicks x={xC3} ticks={WL_TICKS} y1={416} ly={422} fs={4.2} />
      <YTicks y={yC3} ticks={FL_TICKS} x0={402} fs={4.2} />
      <T x={468} y={431} s="Wavelength (nm)" fs={5.6} />
      <T x={383} y={363} s="Fluorescence emission intensity (a.u.)" fs={4.8} rot={-90} />
      <LineLegend labels={LBL_COMMA} x0={480} x1={493} tx={495} ys={[316.7, 322.3, 328.3, 334.3]} />

      <line x1={37} x2={565} y1={437.5} y2={437.5} stroke="#9a9a9a" strokeWidth={0.8} strokeDasharray="1.6,1.4" />

      {/* ============ ROW D ============ */}
      <VertWord x={9.3} ys={[450, 468.3, 486.7, 505, 524.3, 543.3, 561.7, 579.5]} letters="HYDROSAP" />
      <T x={42} y={453.5} s="D)" fs={8} anchor="start" />
      <T x={72} y={452} s="I)" fs={9} anchor="start" />
      <T x={228} y={454} s="II)" fs={9} anchor="start" />
      <T x={407} y={453} s="III)" fs={9} anchor="start" />

      {/* D-I */}
      <Frame x0={67} x1={199} y0={456} y1={558} />
      <Curves xs={WN_D1} series={[D1_RT, D1_MW, D1_RTGP, D1_MWGP]} x={xD1} y={yD1} />
      <XTicks x={xD1} ticks={WN_TICKS} y1={558} ly={565} fs={3.6} />
      <WnTitle x={133} y={576} />
      <T x={62.5} y={507} s="Absorbance (a.u.)" fs={4.8} rot={-90} italic />
      <LineLegend labels={LBL_COMMA} x0={145} x1={155} tx={157} ys={[460.5, 466, 473, 479]} />

      {/* D-II */}
      <Frame x0={227} x1={358} y0={455} y1={560} />
      <Curves xs={WN_D2} series={[D2_RT, D2_MW, D2_RTGP, D2_MWGP]} x={xD2} y={yD2} />
      <XTicks x={xD2} ticks={WN_TICKS} y1={560} ly={566} fs={3.6} />
      <WnTitle x={292} y={576} />
      <LineLegend labels={LBL_DASH} x0={306.5} x1={315} tx={316.7} ys={[536.7, 542.7, 549, 555]} />

      {/* D-III */}
      <Frame x0={403} x1={537} y0={455} y1={560} />
      <Curves xs={WL} series={[D3_RT, D3_MW, D3_RTGP, D3_MWGP]} x={xD3} y={yD3} />
      <XTicks x={xD3} ticks={WL_TICKS} y1={560} ly={566} fs={4.2} />
      <YTicks y={yD3} ticks={FL_TICKS} x0={403} fs={4.2} />
      <T x={470} y={574} s="Wavelength (nm)" fs={5.6} />
      <T x={387} y={505} s="Fluorescence emission intensity (a.u.)" fs={4.8} rot={-90} />
      <LineLegend labels={LBL_COMMA} x0={483} x1={493} tx={495} ys={[460, 466.7, 473.3, 479.3]} />
    </svg>
  );
}
